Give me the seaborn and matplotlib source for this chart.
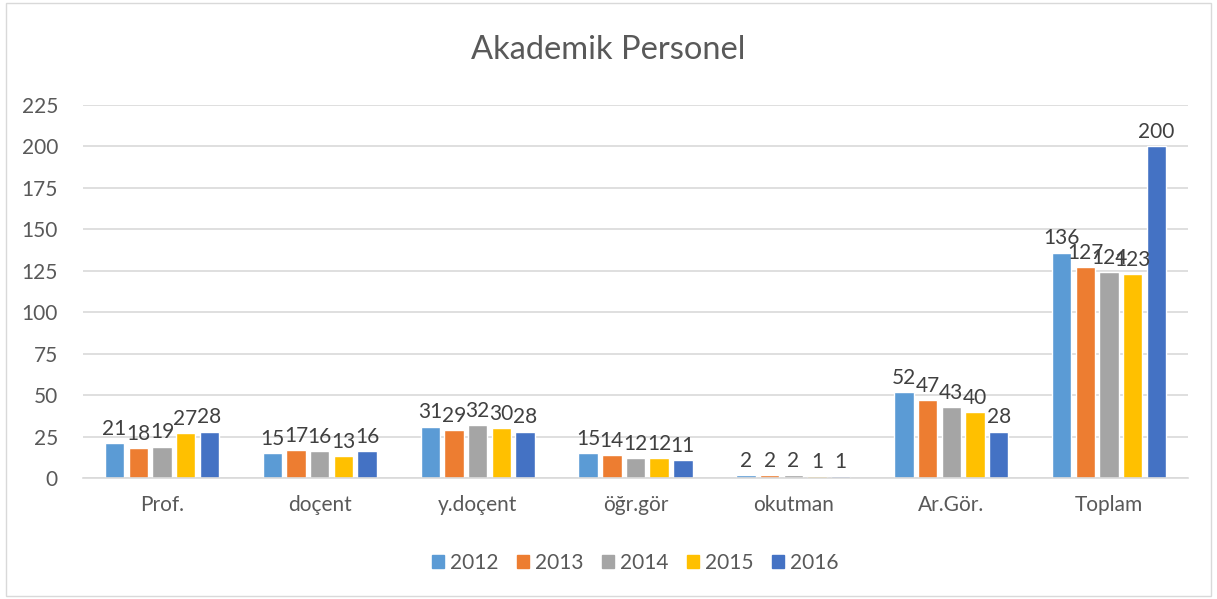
import matplotlib
matplotlib.use("Agg")
import matplotlib.pyplot as plt
import seaborn as sns
import pandas as pd
from matplotlib.patches import Rectangle

categories = ["Prof.", "doçent", "y.doçent", "öğr.gör", "okutman", "Ar.Gör.", "Toplam"]
years = ["2012", "2013", "2014", "2015", "2016"]
v2012 = [21, 15, 31, 15, 2, 52, 136]
v2013 = [18, 17, 29, 14, 2, 47, 127]
v2014 = [19, 16, 32, 12, 2, 43, 124]
v2015 = [27, 13, 30, 12, 1, 40, 123]
v2016 = [28, 16, 28, 11, 1, 28, 200]
colors = ["#5B9BD5", "#ED7D31", "#A5A5A5", "#FFC000", "#4472C4"]

series = [v2012, v2013, v2014, v2015, v2016]
rows = []
for y, vals in zip(years, series):
    for c, v in zip(categories, vals):
        rows.append({"cat": c, "year": y, "val": v})
df = pd.DataFrame(rows)

sns.set_theme(style="white")
plt.rcParams["font.family"] = ["Lato", "DejaVu Sans"]

fig = plt.figure(figsize=(12.17, 5.99), dpi=100)
ax = fig.add_axes([83/1217, 1 - 478/599, (1188-83)/1217, (478-105)/599])

sns.barplot(data=df, x="cat", y="val", hue="year", order=categories,
            hue_order=years, palette=colors, width=0.75, gap=0.18,
            saturation=1, ax=ax, legend=True)

for cont in ax.containers:
    ax.bar_label(cont, padding=3, fontsize=15, color="#404040")

ax.set_ylim(0, 225)
ax.set_yticks(range(0, 226, 25))
ax.yaxis.grid(True, color="#D9D9D9", linewidth=1.2)
ax.set_axisbelow(True)
for s in ["top", "right", "left"]:
    ax.spines[s].set_visible(False)
ax.spines["bottom"].set_color("#D9D9D9")
ax.spines["bottom"].set_linewidth(1.2)
ax.tick_params(axis="both", length=0, labelsize=15, labelcolor="#595959", pad=12)
ax.tick_params(axis="y", pad=18)
ax.set_xlabel("")
ax.set_ylabel("")

fig.text(0.5, 1 - 50/599, "Akademik Personel", ha="center", va="center",
         fontsize=23.5, color="#595959")

handles = [Rectangle((0, 0), 1, 1, color=c) for c in colors]
ax.legend(handles, years, loc="center", bbox_to_anchor=(0.5, (478-563)/(478-105)),
          ncol=5, frameon=False, fontsize=15, labelcolor="#595959",
          handlelength=0.55, handleheight=0.55, handletextpad=0.3, columnspacing=0.9)

fig.patches.append(Rectangle((6/1217, 3/599), 1205/1217, 593/599, transform=fig.transFigure,
                             fill=False, edgecolor="#D9D9D9", linewidth=1))

fig.savefig("out.png", dpi=100, facecolor="white")
